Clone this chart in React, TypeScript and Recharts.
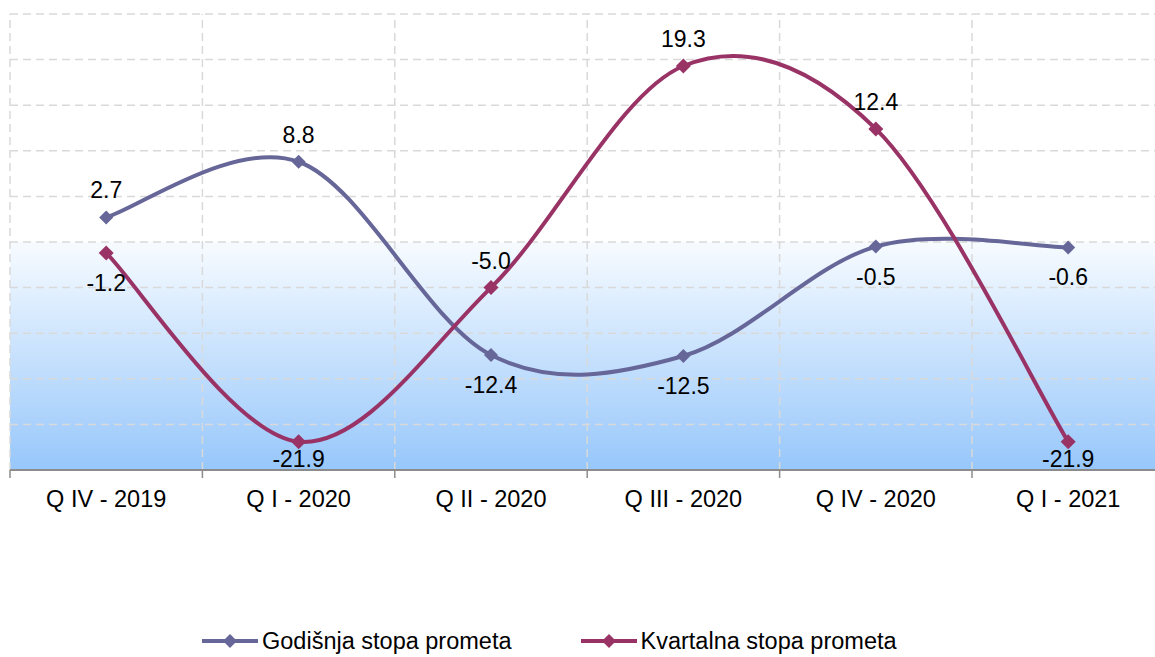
import React from "react"
import { ComposedChart, Line, XAxis, YAxis, ReferenceArea, ReferenceLine, Legend, LabelList } from "recharts"

const quarters = ["Q IV - 2019", "Q I - 2020", "Q II - 2020", "Q III - 2020", "Q IV - 2020", "Q I - 2021"]
const godisnja = [2.7, 8.8, -12.4, -12.5, -0.5, -0.6]
const kvartalna = [-1.2, -21.9, -5.0, 19.3, 12.4, -21.9]
const yTicks = [-25, -20, -15, -10, -5, 0, 5, 10, 15, 20, 25]
const seriesNames = ["Godišnja stopa prometa", "Kvartalna stopa prometa"]
// where each point's value label sits
const godisnjaLabelSide = ["top", "top", "bottom", "bottom", "bottom", "bottom"]
const kvartalnaLabelSide = ["bottom", "bottom", "top", "top", "top", "bottom"]

const data = quarters.map((q, i) => ({ quarter: q, godisnja: godisnja[i], kvartalna: kvartalna[i] }))

const FONT = "'Liberation Sans', Arial, sans-serif"
const BLUE = "#666699"
const MAGENTA = "#993366"
const GRID = "#d9d9d9"
const PLOT_BOTTOM = 470

// Excel-style smoothing (cardinal spline, tension 0)
const excelCurve = (context: any) => {
  let pts: number[][] = []
  return {
    areaStart() {},
    areaEnd() {},
    lineStart() {
      pts = []
    },
    lineEnd() {
      if (!pts.length) return
      context.moveTo(pts[0][0], pts[0][1])
      for (let i = 0; i < pts.length - 1; i++) {
        const p0 = pts[Math.max(i - 1, 0)]
        const p1 = pts[i]
        const p2 = pts[i + 1]
        const p3 = pts[Math.min(i + 2, pts.length - 1)]
        context.bezierCurveTo(
          p1[0] + (p2[0] - p0[0]) / 6,
          p1[1] + (p2[1] - p0[1]) / 6,
          p2[0] - (p3[0] - p1[0]) / 6,
          p2[1] - (p3[1] - p1[1]) / 6,
          p2[0],
          p2[1]
        )
      }
    },
    point(x: number, y: number) {
      pts.push([+x, +y])
    },
  }
}

const diamond = (cx: number, cy: number, r: number) =>
  `M${cx},${cy - r}L${cx + r},${cy}L${cx},${cy + r}L${cx - r},${cy}Z`

const makeDot = (color: string, r: number) => (props: any) => {
  const { cx, cy, index } = props
  if (cx == null || cy == null) return <g key={index} />
  return <path key={index} d={diamond(cx, cy, r)} fill={color} />
}

const makeLabel = (sides: string[]) => (props: any) => {
  const { x, y, value, index } = props
  const below = sides[index] === "bottom"
  const center = below ? Math.min(y + 30, PLOT_BOTTOM - 11) : y - 27
  return (
    <text x={x} y={center + 8} textAnchor="middle" fontSize={23} fontFamily={FONT} fill="#000">
      {Number(value).toFixed(1)}
    </text>
  )
}

const QuarterTick = (props: any) => {
  const { x, y, payload } = props
  const half = payload.offset ?? 0
  return (
    <g>
      <line x1={x - half} x2={x - half} y1={y} y2={y + 8} stroke="#8c8c8c" strokeWidth={1.5} />
      <text x={x} y={y + 37} textAnchor="middle" fontSize={23.5} fontFamily={FONT} fill="#000">
        {payload.value}
      </text>
    </g>
  )
}

const renderLegend = () => (
  <div style={{ display: "flex", alignItems: "center", height: 38, paddingLeft: 202, fontSize: 23.5, fontFamily: FONT }}>
    {seriesNames.map((name, i) => {
      const color = i === 0 ? BLUE : MAGENTA
      return (
        <div key={name} style={{ display: "flex", alignItems: "center", marginRight: 69 }}>
          <svg width={56} height={20}>
            <line x1={0} y1={10} x2={56} y2={10} stroke={color} strokeWidth={4} />
            <path d={diamond(28, 10, 7)} fill={color} />
          </svg>
          <span style={{ marginLeft: 4, color: "#000" }}>{name}</span>
        </div>
      )
    })}
  </div>
)

export default function App() {
  return (
    <div style={{ position: "absolute", left: 0, top: 0, width: 1155, height: 657, overflow: "hidden", background: "#fff", fontFamily: FONT }}>
      <ComposedChart width={1175} height={660} data={data} margin={{ top: 14, right: 10.6, bottom: 0, left: 10 }}>
        <defs>
          <linearGradient id="plotBg" x1="0" y1="0" x2="0" y2="1">
            <stop offset="0%" stopColor="#f7fbff" />
            <stop offset="100%" stopColor="#97c7fb" />
          </linearGradient>
        </defs>
        <XAxis
          dataKey="quarter"
          scale="band"
          interval={0}
          height={152}
          tickSize={0}
          tickMargin={0}
          tickLine={false}
          axisLine={{ stroke: "#8c8c8c", strokeWidth: 2 }}
          tick={<QuarterTick />}
        />
        <YAxis hide domain={[-25, 25]} ticks={yTicks} />
        <ReferenceArea y1={0} y2={-25} fill="url(#plotBg)" fillOpacity={1} stroke="none" />
        {yTicks.slice(1).map((t) => (
          <ReferenceLine key={"h" + t} y={t} stroke={GRID} strokeWidth={1.5} strokeDasharray="8 5" />
        ))}
        {quarters.map((q) => (
          <ReferenceLine key={"v" + q} x={q} position="start" stroke={GRID} strokeWidth={1.5} strokeDasharray="8 5" />
        ))}
        <ReferenceLine x={quarters[quarters.length - 1]} position="end" stroke={GRID} strokeWidth={1.5} strokeDasharray="8 5" />
        <Legend verticalAlign="bottom" height={38} content={renderLegend} wrapperStyle={{ left: 0, width: 1175 }} />
        <Line
          dataKey="godisnja"
          name={seriesNames[0]}
          type={excelCurve as any}
          stroke={BLUE}
          strokeWidth={4}
          dot={makeDot(BLUE, 7)}
          activeDot={false}
          isAnimationActive={false}
        >
          <LabelList dataKey="godisnja" content={makeLabel(godisnjaLabelSide)} />
        </Line>
        <Line
          dataKey="kvartalna"
          name={seriesNames[1]}
          type={excelCurve as any}
          stroke={MAGENTA}
          strokeWidth={4}
          dot={makeDot(MAGENTA, 7.5)}
          activeDot={false}
          isAnimationActive={false}
        >
          <LabelList dataKey="kvartalna" content={makeLabel(kvartalnaLabelSide)} />
        </Line>
      </ComposedChart>
    </div>
  )
}
